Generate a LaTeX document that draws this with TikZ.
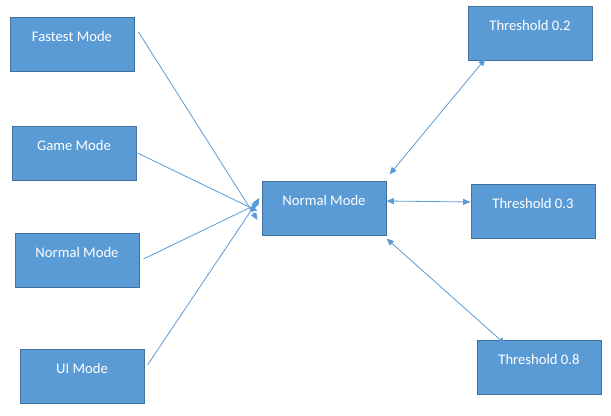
\documentclass[tikz,border=0pt]{standalone}
\usepackage{fontspec}
\setmainfont{Carlito}
\usetikzlibrary{arrows.meta}
\definecolor{boxfill}{HTML}{5B9BD5}
\definecolor{boxline}{HTML}{41719C}
\tikzset{
  modebox/.style={draw=boxline, fill=boxfill, line width=0.75pt, text=white,
    font=\fontsize{11}{13}\selectfont, inner sep=0pt, minimum width=93pt,
    text height=18.5pt, text depth=22pt},
  link/.style={draw=boxfill, line width=0.6pt, -{Triangle[length=5.5pt,width=4.5pt]}},
  duallink/.style={link, {Triangle[length=5.5pt,width=4.5pt]}-{Triangle[length=5.5pt,width=4.5pt]}}
}
\begin{document}
\begin{tikzpicture}[x=0.75pt,y=0.75pt,yscale=-1,xscale=1]
	\useasboundingbox (0,0) rectangle (611,415);
	% modes on the left
	\node [modebox] (fast) at (72,44) {Fastest Mode};
	\node [modebox] (game) at (74,153) {Game Mode};
	\node [modebox] (normleft) at (77,260) {Normal Mode};
	\node [modebox] (ui) at (82,376) {UI Mode};
	% centre
	\node [modebox] (normal) at (324,208) {Normal Mode};
	% thresholds on the right
	\node [modebox] (thrA) at (530,33) {Threshold 0.2};
	\node [modebox] (thrB) at (533,211) {Threshold 0.3};
	\node [modebox] (thrC) at (539,367) {Threshold 0.8};
	% links
	\draw [link] ([xshift=3pt,yshift=-9pt]fast.east) -- ([xshift=-3pt,yshift=9pt]normal.west);
	\draw [link] ([xshift=0.75pt]game.east) -- ([xshift=-3pt,yshift=2.25pt]normal.west);
	\draw [link] ([xshift=3pt,yshift=-0.75pt]normleft.east) -- ([xshift=-1.5pt,yshift=-3.75pt]normal.west);
	\draw [link] ([xshift=2.25pt,yshift=-8.25pt]ui.east) -- ([xshift=-1.5pt,yshift=-7.5pt]normal.west);
	\draw [duallink] ([xshift=2.25pt,yshift=-4.5pt]normal.north east) -- ([xshift=13.5pt,yshift=-1.5pt]thrA.south west);
	\draw [duallink] ([yshift=-5.25pt]normal.east) -- ([yshift=-6.75pt]thrB.west);
	\draw [duallink] ([yshift=2.25pt]normal.south east) -- ([xshift=21.75pt,yshift=3.75pt]thrC.north west);
\end{tikzpicture}
\end{document}
